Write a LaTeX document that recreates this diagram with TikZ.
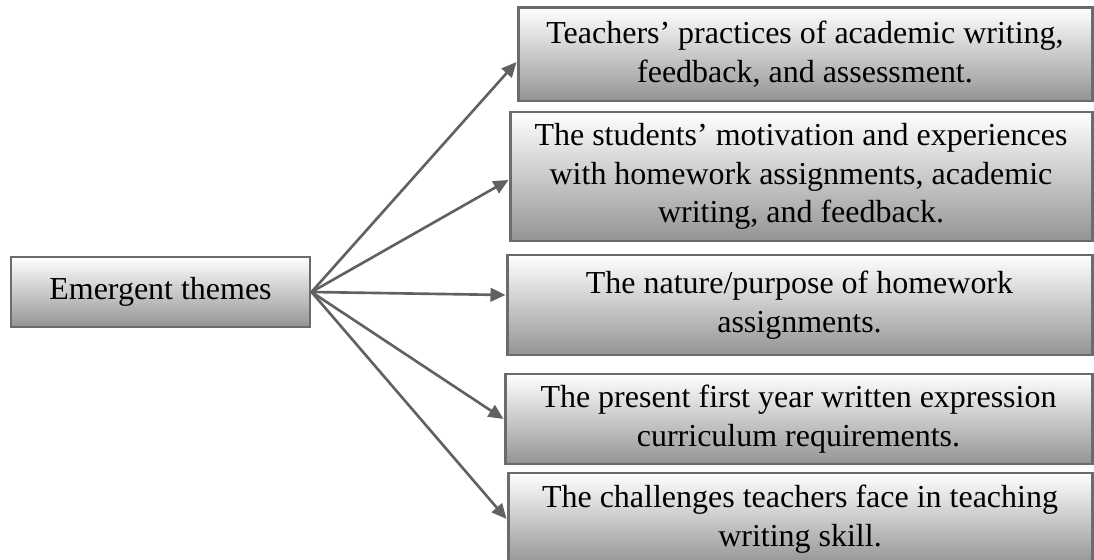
\documentclass[tikz,border=0pt]{standalone}
\usepackage{fontspec}
\setmainfont{Liberation Serif}
\usetikzlibrary{arrows.meta}

\tikzset{
    themebox/.style={draw=black!58, line width=1.7pt, top color=white,
        bottom color=black!42, align=center, inner sep=0pt,
        font=\fontsize{18.2}{22}\selectfont},
    themearrow/.style={draw=black!62, line width=1.5pt,
        -{Triangle[length=0.3cm, width=0.27cm]}}
}

\begin{document}
\begin{tikzpicture}
    \useasboundingbox (0,0) rectangle (21.88,11.2);

    \node[themebox, minimum width=5.98cm, minimum height=1.4cm] (themes) at (3.21,5.36)
        {Emergent themes};

    \node[themebox, minimum width=11.48cm, minimum height=1.86cm] (practices) at (16.1,10.11)
        {Teachers’ practices of academic writing,\\ feedback, and assessment.};
    \node[themebox, minimum width=11.64cm, minimum height=2.58cm] (motivation) at (16.02,7.67)
        {The students’ motivation and experiences\\ with homework assignments, academic\\ writing, and feedback.};
    \node[themebox, minimum width=11.7cm, minimum height=2.0cm] (nature) at (15.99,5.1)
        {The nature/purpose of homework\\ assignments.};
    \node[themebox, minimum width=11.74cm, minimum height=1.8cm] (curriculum) at (15.97,2.82)
        {The present first year written expression\\ curriculum requirements.};
    \node[themebox, minimum width=11.68cm, minimum height=1.84cm] (challenges) at (16.0,0.82)
        {The challenges teachers face in teaching\\ writing skill.};

    \draw[themearrow] (themes.east) -- ([yshift=-0.15cm]practices.west);
    \draw[themearrow] (themes.east) -- ([yshift=-0.07cm]motivation.west);
    \draw[themearrow] (themes.east) -- ([yshift=0.2cm]nature.west);
    \draw[themearrow] (themes.east) -- (curriculum.west);
    \draw[themearrow] (themes.east) -- (challenges.west);
\end{tikzpicture}
\end{document}
